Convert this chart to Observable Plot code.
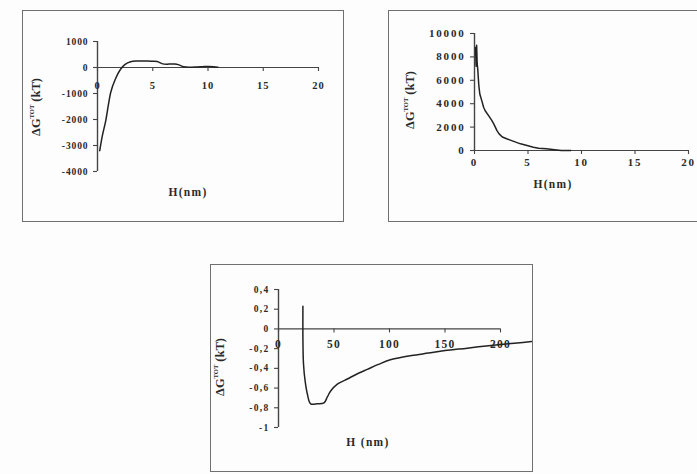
<!DOCTYPE html>
<html><head><meta charset="utf-8">
<script src="https://cdn.jsdelivr.net/npm/d3@7"></script>
<script src="https://cdn.jsdelivr.net/npm/@observablehq/plot@0.6"></script>
<style>
html,body{margin:0;padding:0;background:#fdfdfd;}
#root{position:relative;width:697px;height:474px;overflow:hidden;background:#fdfdfd;}
.panel{position:absolute;overflow:visible;}
.panel svg{display:block;max-width:none !important;outline:1.6px solid #707070;outline-offset:-1.6px;}
</style></head><body><div id="root"></div>
<script>
// ---- Panel 1 data ----
const h1 = [0.2, 0.45, 0.73, 1.0, 1.2, 1.6, 2.1, 2.5, 3.0, 3.5, 4.0, 4.5, 5.0, 5.4, 5.9, 6.5, 7.0, 7.3, 7.8, 8.3, 9.0, 9.5, 10.0, 10.5, 10.9];
const g1 = [-3200, -2600, -2080, -1400, -950, -460, -60, 120, 220, 250, 250, 250, 240, 230, 140, 130, 130, 110, 30, 10, 20, 30, 40, 30, 10];
const xTicks1 = [0, 5, 10, 15, 20];
const yTicks1 = [1000, 0, -1000, -2000, -3000, -4000];

// ---- Panel 2 data ----
const h2 = [0.1, 0.15, 0.2, 0.25, 0.3, 0.4, 0.5, 0.7, 0.85, 1.0, 1.3, 1.6, 1.8, 2.1, 2.3, 2.6, 3.0, 3.6, 4.3, 5.0, 5.5, 6.0, 6.7, 7.3, 8.1, 9.0];
const g2 = [8800, 7200, 9000, 7400, 7000, 5600, 4800, 4200, 3700, 3400, 3000, 2600, 2280, 1700, 1420, 1150, 1000, 800, 570, 400, 280, 200, 140, 80, 0, 0];
const xTicks2 = [0, 5, 10, 15, 20];
const yTicks2 = [10000, 8000, 6000, 4000, 2000, 0];

// ---- Panel 3 data ----
const h3 = [22, 22, 22.5, 24, 26, 29, 35, 41, 44, 47, 53, 60, 65, 72, 80, 90, 100, 110, 120, 135, 150, 170, 185, 200, 215, 228];
const g3 = [0.23, -0.1, -0.35, -0.53, -0.66, -0.76, -0.76, -0.75, -0.69, -0.63, -0.56, -0.52, -0.49, -0.45, -0.41, -0.36, -0.315, -0.29, -0.27, -0.245, -0.22, -0.195, -0.175, -0.158, -0.142, -0.128];
const xTicks3 = [0, 50, 100, 150, 200];
const yTicks3 = [0.4, 0.2, 0, -0.2, -0.4, -0.6, -0.8, -1];

const yTitleMain = "ΔG", yTitleSup = "TOT", yTitleUnit = " (kT)";

const fmtInt = d => String(d);
const fmtComma = d => String(d).replace(".", ",");

const root = document.getElementById("root");

function makePanel(cfg) {
  const data = cfg.h.map((v, i) => ({h: v, g: cfg.g[i]}));
  const x0 = cfg.xDomain[0], x1 = cfg.xDomain[1];
  const ink = "#2a2a2a";
  const chart = Plot.plot({
    width: cfg.width, height: cfg.height,
    marginLeft: cfg.m[0], marginRight: cfg.m[1], marginTop: cfg.m[2], marginBottom: cfg.m[3],
    x: {domain: cfg.xDomain, axis: null},
    y: {domain: cfg.yDomain, axis: null},
    style: {fontFamily: "'Liberation Serif', 'DejaVu Serif', serif", fontWeight: "bold", fontSize: "10px", background: "transparent", color: ink, maxWidth: "none"},
    marks: [
      Plot.ruleX([x0], {stroke: "#444", strokeWidth: 1.4}),
      Plot.ruleY([0], {x1: () => x0, x2: () => x1, stroke: "#444", strokeWidth: 1.2}),
      Plot.ruleX(cfg.xTicks, {x: d => d, y1: () => 0, y2: () => 0, insetBottom: -4, stroke: "#444", strokeWidth: 1.1}),
      Plot.ruleY(cfg.yTicks, {y: d => d, x1: () => x0, x2: () => x0, insetLeft: -4, stroke: "#444", strokeWidth: 1.1}),
      Plot.text(cfg.yTicks, {x: () => x0, y: d => d, text: cfg.fmt, textAnchor: "end", dx: -9, fill: ink, fontSize: cfg.yFont}),
      Plot.text(cfg.xTicks, {x: d => d, y: () => 0, text: cfg.fmt, dy: cfg.xLabelDy, fill: ink, fontSize: cfg.xFont}),
      Plot.line(data, {x: "h", y: "g", stroke: "#222", strokeWidth: 1.5, curve: cfg.curve})
    ]
  });
  chart.style.maxWidth = "none";
  const svg = d3.select(chart);
  svg.selectAll("text").style("letter-spacing", cfg.spacing);
  // x title
  svg.append("text")
    .attr("x", cfg.xTitlePos[0]).attr("y", cfg.xTitlePos[1])
    .attr("text-anchor", "middle").attr("dominant-baseline", "middle")
    .style("font-size", "11.5px").style("letter-spacing", "1.3px").attr("fill", ink)
    .text(cfg.xTitle);
  // y title
  const yt = svg.append("text")
    .attr("transform", `translate(${cfg.yTitlePos[0]},${cfg.yTitlePos[1]}) rotate(-90)`)
    .attr("text-anchor", "middle").attr("dominant-baseline", "middle")
    .style("font-size", "12.5px").attr("fill", ink);
  yt.append("tspan").text(yTitleMain);
  yt.append("tspan").attr("dy", -4).style("font-size", "6.5px").text(yTitleSup);
  yt.append("tspan").attr("dy", 4).text(yTitleUnit);

  const div = document.createElement("div");
  div.className = "panel";
  div.style.left = cfg.left + "px";
  div.style.top = cfg.top + "px";
  div.style.width = cfg.width + "px";
  div.style.height = cfg.height + "px";
  div.appendChild(chart);
  root.appendChild(div);
}

makePanel({
  left: 22, top: 10, width: 322, height: 212, m: [75, 26, 31, 51],
  xDomain: [0, 20], yDomain: [-4000, 1000], h: h1, g: g1, curve: "catmull-rom",
  xTicks: xTicks1, yTicks: yTicks1, fmt: fmtInt, xLabelDy: 18,
  xFont: 10.5, yFont: 9.5, spacing: "0.9px",
  xTitle: "H(nm)", xTitlePos: [166, 183], yTitlePos: [15, 97]
});
makePanel({
  left: 388, top: 10, width: 322, height: 212, m: [86, 22, 23, 72],
  xDomain: [0, 20], yDomain: [0, 10000], h: h2, g: g2, curve: "linear",
  xTicks: xTicks2, yTicks: yTicks2, fmt: fmtInt, xLabelDy: 12,
  xFont: 11, yFont: 11, spacing: "1.8px",
  xTitle: "H(nm)", xTitlePos: [165, 175], yTitlePos: [23, 90]
});
makePanel({
  left: 210, top: 264, width: 323, height: 208, m: [68, 33, 25, 45],
  xDomain: [0, 200], yDomain: [-1, 0.4], h: h3, g: g3, curve: "catmull-rom",
  xTicks: xTicks3, yTicks: yTicks3, fmt: fmtComma, xLabelDy: 15,
  xFont: 11.5, yFont: 9.5, spacing: "1.3px",
  xTitle: "H (nm)", xTitlePos: [158, 179], yTitlePos: [11, 103]
});
</script>
</body></html>
